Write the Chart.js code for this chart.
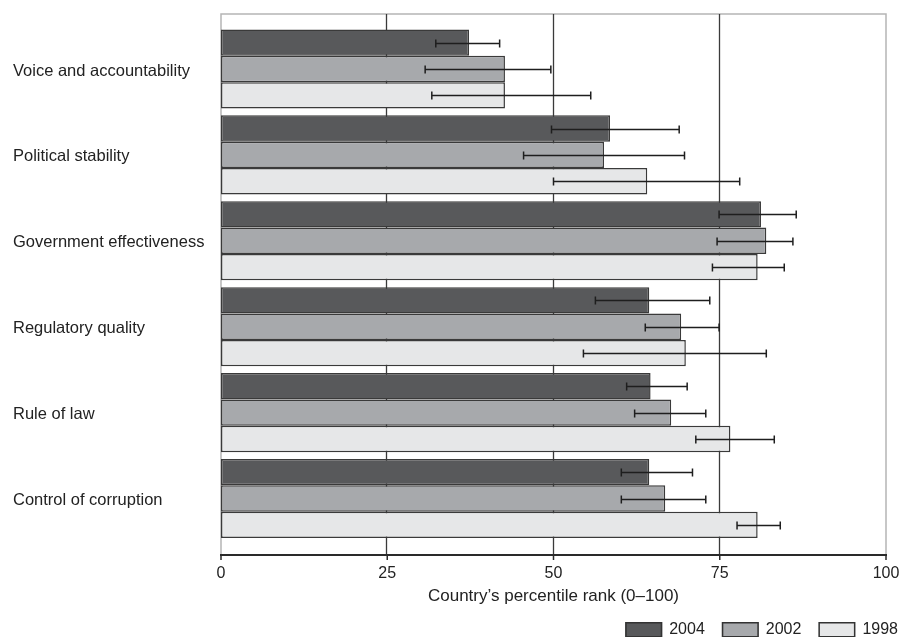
<!DOCTYPE html>
<html>
<head>
<meta charset="utf-8">
<script src="https://cdn.jsdelivr.net/npm/chart.js@4.4.1/dist/chart.umd.min.js"></script>
<style>
  html, body { margin: 0; padding: 0; background: #fff; }
  canvas { display: block; }
</style>
</head>
<body>
<canvas id="rankChart" width="902" height="637"></canvas>
<script>
const categories = ['Voice and accountability', 'Political stability', 'Government effectiveness',
    'Regulatory quality', 'Rule of law', 'Control of corruption'];
const years = ['2004', '2002', '1998'];

// percentile rank per indicator
const rank2004 = [37.3, 58.5, 81.2, 64.4, 64.6, 64.4];
const rank2002 = [42.7, 57.6, 82.0, 69.2, 67.7, 66.8];
const rank1998 = [42.7, 64.1, 80.7, 69.9, 76.6, 80.7];

// confidence range (low / high ends of the error bars)
const low2004 = [32.3, 49.7, 74.9, 56.3, 61.0, 60.2];
const high2004 = [41.9, 68.9, 86.5, 73.5, 70.1, 70.9];
const low2002 = [30.7, 45.5, 74.6, 63.8, 62.2, 60.2];
const high2002 = [49.6, 69.7, 86.0, 74.9, 72.9, 72.9];
const low1998 = [31.7, 50.0, 73.9, 54.5, 71.4, 77.6];
const high1998 = [55.6, 78.0, 84.7, 82.0, 83.2, 84.1];

const xTicks = [0, 25, 50, 75, 100];

const fills = ['#58595b', '#a7a9ac', '#e6e7e8'];
const FONT = 'Liberation Sans, Arial, sans-serif';

// frame, grid lines and bottom axis, drawn over the full plot box
const framePlugin = {
    id: 'frame',
    beforeDatasetsDraw(chart) {
        const { ctx, scales: { x } } = chart;
        const top = 14, bottom = 555;
        const left = x.getPixelForValue(0), right = x.getPixelForValue(100);
        ctx.save();
        ctx.strokeStyle = '#b5b5b5';
        ctx.lineWidth = 1.5;
        ctx.beginPath();
        ctx.moveTo(left, bottom);
        ctx.lineTo(left, top);
        ctx.lineTo(right, top);
        ctx.lineTo(right, bottom);
        ctx.stroke();

        ctx.strokeStyle = '#3a3a3a';
        ctx.lineWidth = 1.3;
        xTicks.slice(1, -1).forEach(v => {
            const px = Math.round(x.getPixelForValue(v)) - 0.5;
            ctx.beginPath();
            ctx.moveTo(px, top);
            ctx.lineTo(px, bottom);
            ctx.stroke();
        });
        ctx.restore();
    },
    afterDraw(chart) {
        const { ctx, scales: { x } } = chart;
        const bottom = 555;
        ctx.save();
        ctx.strokeStyle = '#2a2a2a';
        ctx.lineWidth = 2;
        ctx.beginPath();
        ctx.moveTo(x.getPixelForValue(0) - 1, bottom);
        ctx.lineTo(x.getPixelForValue(100) + 1, bottom);
        ctx.stroke();
        ctx.lineWidth = 1.5;
        xTicks.forEach(v => {
            const px = x.getPixelForValue(v);
            ctx.beginPath();
            ctx.moveTo(px, bottom);
            ctx.lineTo(px, bottom + 5);
            ctx.stroke();
        });
        ctx.restore();
    }
};

const errorPlugin = {
    id: 'errorBars',
    afterDatasetsDraw(chart) {
        const { ctx, scales: { x } } = chart;
        const lows = [low2004, low2002, low1998];
        const highs = [high2004, high2002, high1998];
        ctx.save();
        ctx.strokeStyle = '#1e1e1e';
        ctx.lineWidth = 1.5;
        chart.data.datasets.forEach((ds, i) => {
            chart.getDatasetMeta(i).data.forEach((bar, j) => {
                const x1 = x.getPixelForValue(lows[i][j]);
                const x2 = x.getPixelForValue(highs[i][j]);
                const y = Math.round(bar.y) + 0.5;
                ctx.beginPath();
                ctx.moveTo(x1, y); ctx.lineTo(x2, y);
                ctx.moveTo(x1, y - 4); ctx.lineTo(x1, y + 4);
                ctx.moveTo(x2, y - 4); ctx.lineTo(x2, y + 4);
                ctx.stroke();
            });
        });
        ctx.restore();
    }
};

const legendPlugin = {
    id: 'yearLegend',
    afterDraw(chart) {
        const { ctx } = chart;
        ctx.save();
        ctx.font = '16px ' + FONT;
        ctx.textBaseline = 'middle';
        let xr = 898;
        for (let i = years.length - 1; i >= 0; i--) {
            const tw = ctx.measureText(years[i]).width;
            const tx = xr - tw;
            const bx = tx - 7 - 37;
            ctx.fillStyle = fills[i];
            ctx.fillRect(bx, 622, 37, 15);
            ctx.strokeStyle = '#333';
            ctx.lineWidth = 1.5;
            ctx.strokeRect(bx + 0.75, 622.75, 35.5, 14);
            ctx.fillStyle = '#222';
            ctx.fillText(years[i], tx, 630);
            xr = bx - 17;
        }
        ctx.restore();
    }
};

function makeSet(label, data, color) {
    return {
        label: label,
        data: data,
        backgroundColor: color,
        borderColor: '#3a3a3a',
        borderWidth: 1.5,
        borderSkipped: false,
        categoryPercentage: 0.92,
        barPercentage: 1.0
    };
}

new Chart(document.getElementById('rankChart'), {
    type: 'bar',
    data: {
        labels: categories,
        datasets: [
            makeSet(years[0], rank2004, fills[0]),
            makeSet(years[1], rank2002, fills[1]),
            makeSet(years[2], rank1998, fills[2])
        ]
    },
    options: {
        indexAxis: 'y',
        responsive: false,
        animation: false,
        layout: { padding: { left: 13, top: 26, right: 16, bottom: 0 } },
        plugins: {
            legend: { display: false },
            tooltip: { enabled: false }
        },
        scales: {
            x: {
                min: 0,
                max: 100,
                afterBuildTicks: (scale) => { scale.ticks = xTicks.map(v => ({ value: v })); },
                grid: { display: false, drawTicks: false },
                border: { display: false },
                ticks: { color: '#222', padding: 22, font: { family: FONT, size: 16 } },
                title: {
                    display: true,
                    text: 'Country’s percentile rank (0–100)',
                    color: '#222',
                    font: { family: FONT, size: 17 },
                    padding: { top: 0, bottom: 30 }
                },
                afterFit: (scale) => {
                    scale.height = 95.5;
                    scale.paddingLeft = 0;
                    scale.paddingRight = 0;
                }
            },
            y: {
                grid: { display: false },
                border: { display: false },
                ticks: { color: '#222', crossAlign: 'far', labelOffset: 2, font: { family: FONT, size: 16.5 } },
                afterFit: (scale) => { scale.width = 208; }
            }
        }
    },
    plugins: [framePlugin, errorPlugin, legendPlugin]
});
</script>
</body>
</html>
